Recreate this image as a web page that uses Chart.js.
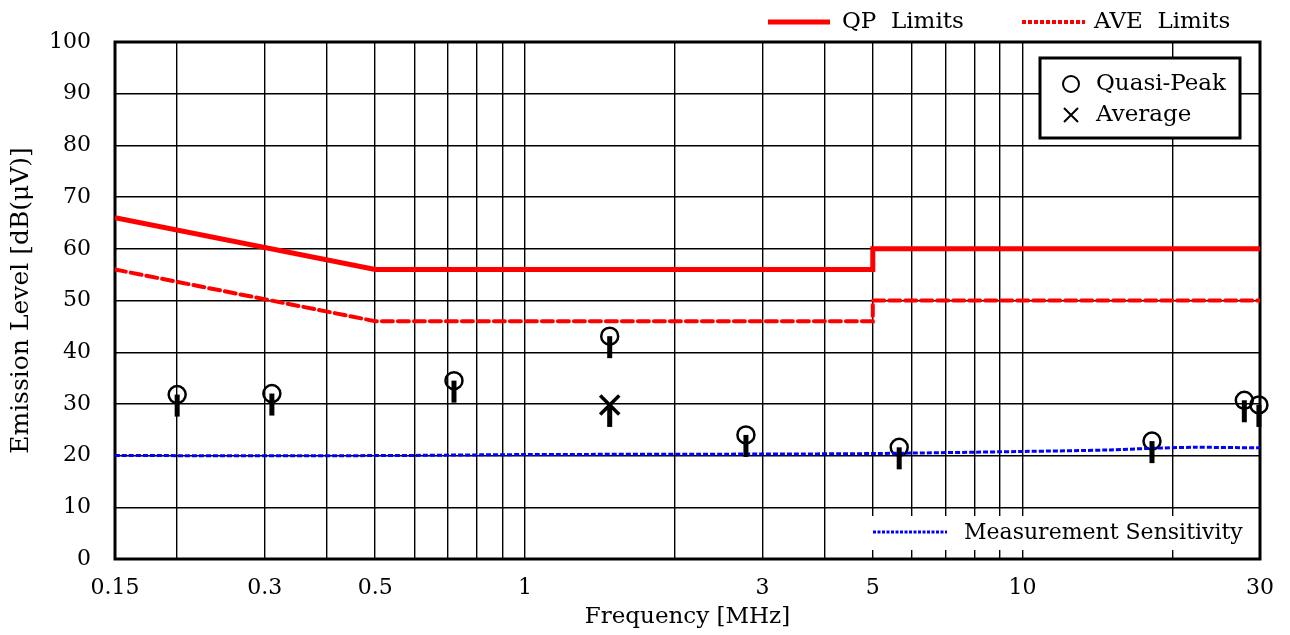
<!DOCTYPE html>
<html>
<head>
<meta charset="utf-8">
<script src="https://cdn.jsdelivr.net/npm/chart.js@4.4.1/dist/chart.umd.min.js"></script>
<style>
  html, body { margin: 0; padding: 0; background: #fff; }
  #wrap { width: 1290px; height: 635px; position: relative; }
</style>
</head>
<body>
<div id="wrap"><canvas id="chartEmi"></canvas></div>
<script>
// ---- dados ----
const qpLimitFreq = [0.15, 0.5, 5, 5, 30];
const qpLimitLevel = [66, 56, 56, 60, 60];
const aveLimitFreq = [0.15, 0.5, 5, 5, 30];
const aveLimitLevel = [56, 46, 46, 50, 50];
const sensFreq = [0.15, 0.5, 1, 3, 5, 10, 15, 18, 22, 30];
const sensLevel = [20.0, 20.0, 20.2, 20.3, 20.4, 20.8, 21.1, 21.4, 21.6, 21.5];
const qpFreq = [0.2, 0.31, 0.72, 1.48, 2.78, 5.65, 18.2, 27.9, 29.85];
const qpLevel = [31.8, 32.0, 34.5, 43.1, 24.0, 21.6, 22.8, 30.7, 29.8];
const avFreq = [1.48];
const avLevel = [29.8];
const xGridFreqs = [0.15, 0.2, 0.3, 0.4, 0.5, 0.6, 0.7, 0.8, 0.9, 1, 2, 3, 4, 5, 6, 7, 8, 9, 10, 20, 30];
const xTickLabels = [0.15, 0.3, 0.5, 1, 3, 5, 10, 30];

const FONT = "'DejaVu Serif', serif";
const pts = (xs, ys) => xs.map((x, i) => ({ x, y: ys[i] }));

// moldura grossa em volta da área de plotagem
const moldura = {
  id: 'moldura',
  beforeDatasetsDraw(chart) {
    const { ctx, chartArea: a } = chart;
    ctx.save();
    ctx.strokeStyle = '#000';
    ctx.lineWidth = 3;
    ctx.strokeRect(a.left, a.top, a.right - a.left, a.bottom - a.top);
    ctx.restore();
  }
};

// barrinha vertical abaixo de cada marcador
const barras = {
  id: 'barras',
  afterDatasetsDraw(chart) {
    const ctx = chart.ctx;
    ctx.save();
    ctx.fillStyle = '#000';
    [3, 4].forEach(i => {
      chart.getDatasetMeta(i).data.forEach(pt => ctx.fillRect(pt.x - 2.5, pt.y, 5, 22));
    });
    ctx.restore();
  }
};

// legendas desenhadas à mão
const legendas = {
  id: 'legendas',
  afterDraw(chart) {
    const ctx = chart.ctx;
    ctx.save();
    ctx.font = '23px ' + FONT;
    ctx.fillStyle = '#000';
    ctx.textBaseline = 'middle';
    ctx.textAlign = 'left';

    // topo: limites
    ctx.strokeStyle = '#ff0000';
    ctx.lineWidth = 5;
    ctx.beginPath(); ctx.moveTo(768, 22); ctx.lineTo(830, 22); ctx.stroke();
    ctx.fillText('QP  Limits', 842, 22);
    ctx.lineWidth = 4;
    ctx.setLineDash([4, 2]);
    ctx.beginPath(); ctx.moveTo(1022, 22); ctx.lineTo(1085, 22); ctx.stroke();
    ctx.setLineDash([]);
    ctx.fillText('AVE  Limits', 1094, 22);

    // caixa de marcadores
    ctx.fillStyle = '#fff';
    ctx.fillRect(1040, 58, 200, 80);
    ctx.strokeStyle = '#000';
    ctx.lineWidth = 3;
    ctx.strokeRect(1040, 58, 200, 80);
    ctx.lineWidth = 2;
    ctx.beginPath(); ctx.arc(1071, 84, 8, 0, Math.PI * 2); ctx.stroke();
    ctx.beginPath();
    ctx.moveTo(1064, 108); ctx.lineTo(1078, 122);
    ctx.moveTo(1078, 108); ctx.lineTo(1064, 122);
    ctx.stroke();
    ctx.fillStyle = '#000';
    ctx.fillText('Quasi-Peak', 1096, 84);
    ctx.fillText('Average', 1096, 115);

    // rodapé: sensibilidade
    ctx.fillStyle = '#fff';
    ctx.fillRect(862, 516, 394, 34);
    ctx.strokeStyle = '#0000ff';
    ctx.lineWidth = 3;
    ctx.setLineDash([3, 1.5]);
    ctx.beginPath(); ctx.moveTo(873, 532); ctx.lineTo(947, 532); ctx.stroke();
    ctx.setLineDash([]);
    ctx.fillStyle = '#000';
    ctx.font = '22px ' + FONT;
    ctx.fillText('Measurement Sensitivity', 964, 533, 284);
    ctx.restore();
  }
};

new Chart(document.getElementById('chartEmi'), {
  type: 'line',
  data: {
    datasets: [
      { label: 'QP Limits', data: pts(qpLimitFreq, qpLimitLevel), borderColor: '#ff0000', borderWidth: 5,
        pointRadius: 0, tension: 0, fill: false },
      { label: 'AVE Limits', data: pts(aveLimitFreq, aveLimitLevel), borderColor: '#ff0000', borderWidth: 4,
        borderDash: [11, 5], borderCapStyle: 'round', pointRadius: 0, tension: 0, fill: false },
      { label: 'Measurement Sensitivity', data: pts(sensFreq, sensLevel), borderColor: '#0000ff', borderWidth: 3,
        borderDash: [5, 2], pointRadius: 0, tension: 0.3, fill: false },
      { label: 'Quasi-Peak', data: pts(qpFreq, qpLevel), showLine: false, pointStyle: 'circle', pointRadius: 8.5,
        pointBorderWidth: 2.5, pointBorderColor: '#000', pointBackgroundColor: 'rgba(0,0,0,0)', clip: false },
      { label: 'Average', data: pts(avFreq, avLevel), showLine: false, pointStyle: 'crossRot', pointRadius: 13.5,
        pointBorderWidth: 3.5, pointBorderColor: '#000', clip: false }
    ]
  },
  plugins: [moldura, barras, legendas],
  options: {
    responsive: true, maintainAspectRatio: false, animation: false,
    layout: { padding: { left: 0, right: 29, top: 42, bottom: 0 } },
    plugins: { legend: { display: false }, tooltip: { enabled: false } },
    scales: {
      x: {
        type: 'logarithmic', min: 0.15, max: 30,
        afterBuildTicks: s => { s.ticks = xGridFreqs.map(v => ({ value: v })); },
        afterFit: s => { s.height = 76; },
        grid: { color: '#000', lineWidth: 1.4, drawTicks: false },
        border: { display: false },
        ticks: {
          autoSkip: false, maxRotation: 0, padding: 16, color: '#000',
          font: { family: FONT, size: 22 },
          callback: v => xTickLabels.includes(v) ? String(v) : ''
        },
        title: { display: true, text: 'Frequency [MHz]', color: '#000', font: { family: FONT, size: 23 },
          padding: { top: 0, bottom: 4 } }
      },
      y: {
        min: 0, max: 100,
        afterFit: s => { s.width = 115; },
        grid: { color: '#000', lineWidth: 1.4, drawTicks: false },
        border: { display: false },
        ticks: { stepSize: 10, padding: 24, color: '#000', font: { family: FONT, size: 22 } },
        title: { display: true, text: 'Emission Level [dB(μV)]', color: '#000', font: { family: FONT, size: 25 },
          padding: { top: 6, bottom: 0 } }
      }
    }
  }
});
</script>
</body>
</html>
